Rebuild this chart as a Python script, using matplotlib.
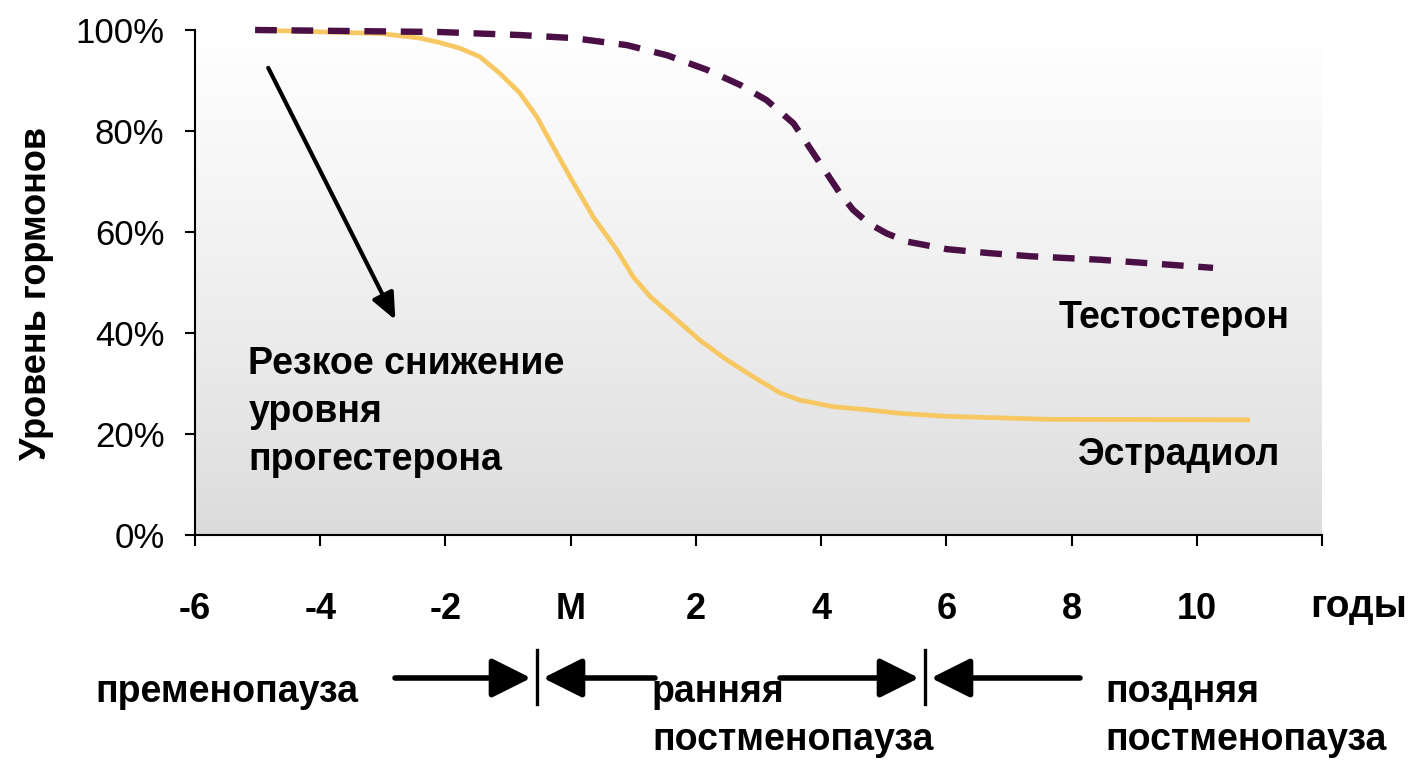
import matplotlib.pyplot as plt
import numpy as np

# кривые (годы от менопаузы, % от исходного уровня)
years_estradiol = [-5.04, -3.04, -2.41, -2.09, -1.77, -1.45, -1.13, -0.81, -0.54, -0.28,
                   -0.01, 0.36, 0.74, 1.00, 1.27, 1.64, 2.06, 2.49, 2.92, 3.35,
                   3.66, 4.20, 4.73, 5.26, 6.00, 7.66, 10.85]
estradiol = [100, 99.3, 98.4, 97.5, 96.4, 94.7, 91.4, 87.5, 82.8, 76.9,
             70.9, 63.0, 56.4, 51.1, 47.2, 43.2, 38.6, 34.7, 31.3, 28.1,
             26.7, 25.4, 24.8, 24.1, 23.5, 22.9, 22.8]

years_testosterone = [-5.04, -2.09, -0.81, 0.04, 0.90, 1.54, 2.18, 2.71, 3.13, 3.56,
                      3.93, 4.30, 4.51, 4.76, 5.05, 5.37, 6.01, 6.70, 7.34, 8.46, 10.26]
testosterone = [100, 99.6, 99.0, 98.4, 97.0, 95.0, 92.1, 89.1, 86.1, 81.5,
                74.6, 67.7, 64.4, 61.7, 59.7, 58.1, 56.6, 55.8, 55.2, 54.5, 52.9]

x_ticks = [-6, -4, -2, 0, 2, 4, 6, 8, 10, 12]
x_tick_labels = ["-6", "-4", "-2", "M", "2", "4", "6", "8", "10", ""]
y_ticks = [0, 20, 40, 60, 80, 100]
y_tick_labels = ["0%", "20%", "40%", "60%", "80%", "100%"]

W, H = 1412, 760


def fx(px):
    return px / W


def fy(py):
    return 1 - py / H


plt.rcParams["font.family"] = ["Liberation Sans", "DejaVu Sans"]

fig = plt.figure(figsize=(W / 100, H / 100), dpi=100)
ax = fig.add_axes([fx(195), fy(535), (1322 - 195) / W, (535 - 30) / H])
ax.set_xlim(-6, 12)
ax.set_ylim(0, 100)

# фон: градиент от белого сверху к серому снизу
g = np.linspace(0, 1, 256)[:, None]
shade = 0.855 + 0.145 * g ** 0.8
img = np.dstack([shade, shade, shade])
ax.imshow(img, origin="lower", extent=(-6, 12, 0, 100), aspect="auto", zorder=0)

ax.plot(years_estradiol, estradiol, color="#f7c862", lw=3.4, clip_on=False,
        solid_capstyle="butt", solid_joinstyle="round", zorder=3)
ax.plot(years_testosterone, testosterone, color="#4a0f45", lw=4.6, dashes=(3.4, 2.3),
        clip_on=False, zorder=4)

for s in ["top", "right"]:
    ax.spines[s].set_visible(False)
for s in ["left", "bottom"]:
    ax.spines[s].set_linewidth(1.5)
    ax.spines[s].set_color("black")

ax.set_xticks(x_ticks)
ax.set_xticklabels(x_tick_labels, fontsize=26, fontweight="bold")
ax.set_yticks(y_ticks)
ax.set_yticklabels(y_tick_labels, fontsize=25)
ax.tick_params(axis="x", direction="out", length=8, width=1.5, pad=33)
ax.tick_params(axis="y", direction="out", length=7, width=1.5, pad=15)

fig.text(fx(37), fy(293), "Уровень гормонов", rotation=90, fontsize=26,
         fontweight="bold", ha="center", va="center")

ax.text(7.79, 43, "Тестостерон", fontsize=27, fontweight="bold", va="center")
ax.text(8.1, 15.8, "Эстрадиол", fontsize=27, fontweight="bold", va="center")
ax.text(-5.15, 24.4, "Резкое снижение\nуровня\nпрогестерона", fontsize=27,
        fontweight="bold", va="center", ha="left", linespacing=1.42)

ax.annotate("", xy=(-2.8, 42.6), xytext=(-4.83, 92.5),
            arrowprops=dict(arrowstyle="-|>,head_length=0.8,head_width=0.35",
                            color="black", lw=3, mutation_scale=20, shrinkA=0, shrinkB=0))

fig.text(fx(1310), fy(607), "годы", fontsize=28, fontweight="bold", va="center")
fig.text(fx(95), fy(692), "пременопауза", fontsize=27, fontweight="bold", va="center")
fig.text(fx(652), fy(716), "ранняя\nпостменопауза", fontsize=27, fontweight="bold",
         va="center", linespacing=1.42)
fig.text(fx(1105), fy(716), "поздняя\nпостменопауза", fontsize=27, fontweight="bold",
         va="center", linespacing=1.42)

# стрелки с границами периодов
arrow_kw = dict(arrowstyle="-|>,head_length=1.2,head_width=0.6", color="black", lw=4,
                mutation_scale=20, shrinkA=0, shrinkB=0)
for x0, tip, bar, x1, tip2 in [(395, 531, 537, 655, 543), (780, 919, 925, 1080, 931)]:
    fig.add_artist(plt.Line2D([fx(bar), fx(bar)], [fy(650), fy(704)], color="black", lw=2.4))
    ax.annotate("", xy=(fx(tip), fy(678)), xytext=(fx(x0), fy(678)),
                xycoords="figure fraction", textcoords="figure fraction",
                arrowprops=arrow_kw, annotation_clip=False)
    ax.annotate("", xy=(fx(tip2), fy(678)), xytext=(fx(x1), fy(678)),
                xycoords="figure fraction", textcoords="figure fraction",
                arrowprops=arrow_kw, annotation_clip=False)

fig.savefig("out.png", dpi=100)
